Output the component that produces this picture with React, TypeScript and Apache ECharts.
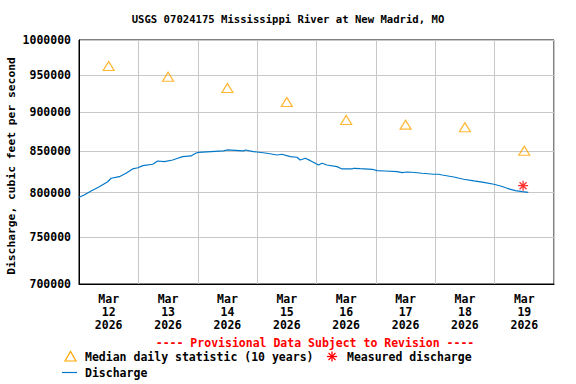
import React, { useEffect, useRef } from "react";
import * as echarts from "echarts";

const TITLE = "USGS 07024175 Mississippi River at New Madrid, MO";
const Y_NAME = "Discharge, cubic feet per second";
const FONT = '"DejaVu Sans Mono", monospace';

// hours since Mar 12 2026 00:00
const dischargeHours = [
  0, 2.1, 4.9, 8.2, 11.6, 13.0, 16.3, 19.0, 21.7, 23.8, 25.8, 29.8, 31.8, 34.5, 37.9, 39.9, 41.9, 45.3, 47.1, 48.3,
  58.4, 59.8, 66.5, 67.2, 70.5, 71.9, 76.0, 80.0, 82.0, 85.4, 88.1, 89.4, 91.5, 93.5, 95.5, 96.8, 98.2, 100.2,
  104.3, 106.3, 110.4, 111.0, 113.7, 118.5, 120.5, 123.8, 128.6, 130.6, 132.6, 134.6, 138.7, 143.4, 145.4, 146.8,
  151.5, 155.5, 159.6, 163.6, 167.7, 170.4, 173.1, 176.4, 179.2, 181.6,
];
const dischargeValues = [
  794600, 797300, 802000, 807000, 812900, 817000, 818900, 823000, 828200, 829700, 832200, 833900, 837900, 837100,
  839100, 841200, 843200, 844100, 847400, 848600, 850300, 851500, 850300, 851500, 849400, 849000, 847400, 845300,
  846200, 843200, 842500, 839100, 841200, 838300, 835100, 833000, 835100, 833000, 831000, 828200, 828200, 829000,
  828500, 827800, 826100, 825700, 824900, 823700, 824500, 824200, 823000, 821800, 821800, 820900, 818500, 815800,
  813800, 812200, 809900, 807800, 805100, 802300, 801100, 800400,
];

const medianHours = [12, 36, 60, 84, 108, 132, 156, 180];
const medianValues = [962600, 947700, 932200, 913400, 889600, 883600, 880200, 850600];

const measuredHours = [179.5];
const measuredValues = [808200];

const yTicks = [700000, 750000, 800000, 850000, 900000, 950000, 1000000];
const xLabelHours = [12, 36, 60, 84, 108, 132, 156, 180];
const xLabels = ["Mar\n12\n2026", "Mar\n13\n2026", "Mar\n14\n2026", "Mar\n15\n2026", "Mar\n16\n2026", "Mar\n17\n2026", "Mar\n18\n2026", "Mar\n19\n2026"];

const LEGEND_PROVISIONAL = "---- Provisional Data Subject to Revision ----";
const LEGEND_MEDIAN = "Median daily statistic (10 years)";
const LEGEND_MEASURED = "Measured discharge";
const LEGEND_DISCHARGE = "Discharge";

const LINE_COLOR = "#0077c8";
const MEDIAN_COLOR = "#ffa500";
const MEASURED_COLOR = "#ff0000";

export default function App() {
  const ref = useRef<HTMLDivElement>(null);
  useEffect(() => {
    if (!ref.current) return;
    const chart = echarts.init(ref.current, undefined, { renderer: "svg" });
    const labelFont = { fontFamily: FONT, fontWeight: "bold" as const, fontSize: 11.5, color: "#000" };
    const lf = `bold 11.5px ${FONT}`;
    const ax = 332, ay = 356.5, ar = 5;
    chart.setOption({
      animation: false,
      backgroundColor: "#fff",
      title: {
        text: TITLE,
        left: "center",
        top: 13,
        padding: 0,
        textStyle: { fontFamily: FONT, fontWeight: "bold", fontSize: 10.6, color: "#000" },
      },
      grid: {
        left: 79,
        right: 22,
        top: 40,
        bottom: 100,
        show: true,
        borderColor: "#000",
        borderWidth: 1,
        backgroundColor: "transparent",
        containLabel: false,
        outerBoundsMode: "none",
      },
      xAxis: {
        type: "value",
        min: 0,
        max: 192,
        interval: 24,
        axisLine: { show: true, lineStyle: { color: "#000" } },
        axisTick: { show: false },
        splitLine: { show: true, lineStyle: { color: "#c8c8c8" } },
        axisLabel: {
          ...labelFont,
          customValues: xLabelHours,
          lineHeight: 13,
          margin: 8,
          formatter: (v: number) => {
            const i = xLabelHours.indexOf(Math.round(v));
            return i >= 0 ? xLabels[i] : "";
          },
        },
      },
      yAxis: {
        type: "log",
        logBase: 10,
        min: 700000,
        max: 1000000,
        axisLine: { show: true, lineStyle: { color: "#000" } },
        axisTick: { show: false, customValues: yTicks },
        splitLine: { show: true, lineStyle: { color: "#c8c8c8" } },
        axisLabel: {
          ...labelFont,
          customValues: yTicks,
          margin: 8,
          formatter: (v: number) => String(Math.round(v)),
        },
      },
      series: [
        {
          name: LEGEND_DISCHARGE,
          type: "line",
          data: dischargeHours.map((h, i) => [h, dischargeValues[i]]),
          showSymbol: false,
          lineStyle: { color: LINE_COLOR, width: 1.2 },
          z: 2,
        },
        {
          name: LEGEND_MEDIAN,
          type: "scatter",
          data: medianHours.map((h, i) => [h, medianValues[i]]),
          symbol: "triangle",
          symbolSize: [11, 9],
          itemStyle: { color: "rgba(255,255,255,0)", borderColor: MEDIAN_COLOR, borderWidth: 1.2 },
          z: 3,
        },
        {
          name: LEGEND_MEASURED,
          type: "scatter",
          data: measuredHours.map((h, i) => [h, measuredValues[i]]),
          symbol: "path://M5,0L5,10M0,5L10,5M1.5,1.5L8.5,8.5M8.5,1.5L1.5,8.5",
          symbolSize: 10,
          itemStyle: { color: "rgba(255,255,255,0)", borderColor: MEASURED_COLOR, borderWidth: 1.3 },
          z: 4,
        },
      ],
      graphic: [
        {
          type: "text",
          x: 11,
          y: 166,
          rotation: Math.PI / 2,
          style: { text: Y_NAME, fill: "#000", font: `bold 11.3px ${FONT}`, align: "center", verticalAlign: "middle" },
        },
        {
          type: "text",
          x: 315,
          y: 343,
          style: { text: LEGEND_PROVISIONAL, fill: MEASURED_COLOR, font: lf, align: "center", verticalAlign: "middle" },
        },
        {
          type: "polygon",
          shape: { points: [[65, 361], [76, 361], [70.5, 351.5]] },
          style: { fill: "none", stroke: MEDIAN_COLOR, lineWidth: 1.2 },
        },
        {
          type: "text",
          x: 85,
          y: 356.5,
          style: { text: LEGEND_MEDIAN, fill: "#000", font: lf, align: "left", verticalAlign: "middle" },
        },
        { type: "line", shape: { x1: ax - ar, y1: ay, x2: ax + ar, y2: ay }, style: { stroke: MEASURED_COLOR, lineWidth: 1.3 } },
        { type: "line", shape: { x1: ax, y1: ay - ar, x2: ax, y2: ay + ar }, style: { stroke: MEASURED_COLOR, lineWidth: 1.3 } },
        { type: "line", shape: { x1: ax - 3.5, y1: ay - 3.5, x2: ax + 3.5, y2: ay + 3.5 }, style: { stroke: MEASURED_COLOR, lineWidth: 1.3 } },
        { type: "line", shape: { x1: ax + 3.5, y1: ay - 3.5, x2: ax - 3.5, y2: ay + 3.5 }, style: { stroke: MEASURED_COLOR, lineWidth: 1.3 } },
        {
          type: "text",
          x: 347,
          y: 356.5,
          style: { text: LEGEND_MEASURED, fill: "#000", font: lf, align: "left", verticalAlign: "middle" },
        },
        { type: "line", shape: { x1: 62, y1: 372.5, x2: 77, y2: 372.5 }, style: { stroke: LINE_COLOR, lineWidth: 1.2 } },
        {
          type: "text",
          x: 85,
          y: 372.5,
          style: { text: LEGEND_DISCHARGE, fill: "#000", font: lf, align: "left", verticalAlign: "middle" },
        },
      ],
    });
    return () => chart.dispose();
  }, []);
  return <div ref={ref} style={{ position: "fixed", left: 0, top: 0, width: 576, height: 384, background: "#fff" }} />;
}
